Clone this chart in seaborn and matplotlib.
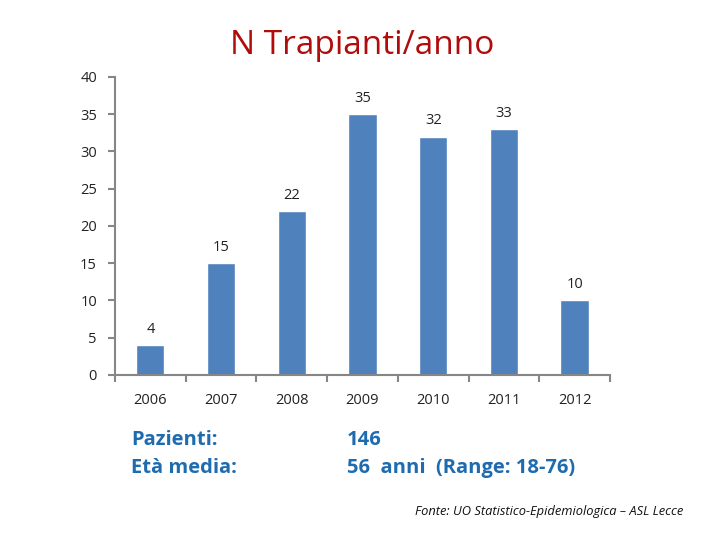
import matplotlib
matplotlib.use("Agg")
import matplotlib.pyplot as plt
import seaborn as sns
import pandas as pd

years = ["2006", "2007", "2008", "2009", "2010", "2011", "2012"]
trapianti = [4, 15, 22, 35, 32, 33, 10]
y_ticks = [0, 5, 10, 15, 20, 25, 30, 35, 40]

sns.set_theme(style="white")
plt.rcParams['font.family'] = ['Open Sans', 'DejaVu Sans']

df = pd.DataFrame({"anno": years, "n": trapianti})

fig = plt.figure(figsize=(7.2, 5.4), dpi=100)
ax = fig.add_axes([0.1597, 0.3056, 0.6875, 0.552])

sns.barplot(data=df, x="anno", y="n", color="#4F81BD", width=0.4,
            saturation=1, ax=ax)

ax.set_xlim(-0.5, len(years) - 0.5)
ax.set_ylim(0, 40)
ax.set_yticks(y_ticks)
ax.set_xlabel("")
ax.set_ylabel("")

for s in ["top", "right"]:
    ax.spines[s].set_visible(False)
for s in ["left", "bottom"]:
    ax.spines[s].set_color("#868686")
    ax.spines[s].set_linewidth(1.5)

ax.tick_params(axis="y", which="major", direction="out", length=5, width=1.5,
               color="#868686", left=True, labelsize=10.5, pad=8, labelcolor="#222222")
ax.tick_params(axis="x", which="major", length=0, labelsize=10.5, pad=13,
               labelcolor="#222222")
ax.set_xticks([i - 0.5 for i in range(len(years) + 1)], minor=True)
ax.tick_params(axis="x", which="minor", direction="out", length=5, width=1.5,
               color="#868686", bottom=True)

for i, v in enumerate(trapianti):
    ax.annotate(str(v), (i, v), xytext=(0, 11.5), textcoords="offset points",
                ha="center", va="center", fontsize=10.5, color="#222222")

fig.text(0.503, 1 - 45 / 540, "N Trapianti/anno", ha="center", va="center",
         fontsize=24, color="#B00C0C")

blue = "#1F6BB0"
fig.text(131 / 720, 1 - 440 / 540, "Pazienti:", ha="left", va="center",
         fontsize=14.5, fontweight="bold", color=blue)
fig.text(131 / 720, 1 - 468 / 540, "Età media:", ha="left", va="center",
         fontsize=14.5, fontweight="bold", color=blue)
fig.text(347 / 720, 1 - 440 / 540, "146", ha="left", va="center",
         fontsize=14.5, fontweight="bold", color=blue)
fig.text(347 / 720, 1 - 468 / 540, "56  anni  (Range: 18-76)", ha="left", va="center",
         fontsize=14.5, fontweight="bold", color=blue)
fig.text(683 / 720, 1 - 512 / 540, "Fonte: UO Statistico-Epidemiologica – ASL Lecce",
         ha="right", va="center", fontsize=9.3, style="italic", color="#111111")

fig.savefig("out.png", dpi=100)
